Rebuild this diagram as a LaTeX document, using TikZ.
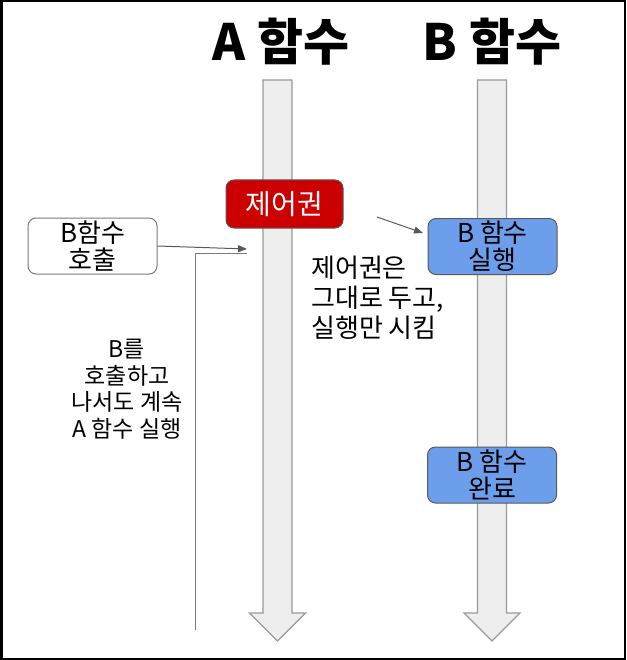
\documentclass[tikz,border=0pt]{standalone}
\usepackage{fontspec}
\setmainfont{Noto Sans CJK KR}
\usetikzlibrary{arrows.meta, positioning}
\definecolor{shaftfill}{HTML}{EEEEEE}
\definecolor{shaftline}{HTML}{9A9A9A}
\definecolor{ctrlred}{HTML}{CC0000}
\definecolor{runblue}{HTML}{6D9EEB}
\definecolor{linegray}{HTML}{595959}

\begin{document}
\begin{tikzpicture}[x=1pt, y=-1pt,
    every node/.style={font=\fontsize{26}{27}\selectfont, align=center, inner sep=0pt},
    title/.style={font=\fontsize{50}{54}\selectfont\bfseries},
    shaft/.style={draw=shaftline, fill=shaftfill, line width=1.2pt, line join=miter},
    callbox/.style={draw=linegray!80, fill=white, line width=1pt, rounded corners=8pt, minimum width=129pt, minimum height=56pt},
    ctrlbox/.style={draw=linegray, fill=ctrlred, text=white, line width=1pt, rounded corners=8pt, minimum width=117pt, minimum height=48pt, font=\fontsize{28}{30}\selectfont},
    runbox/.style={draw=linegray, fill=runblue, line width=1pt, rounded corners=8pt, minimum width=129pt, minimum height=56pt},
    note/.style={font=\fontsize{26}{30}\selectfont},
    arr/.style={-{Triangle[length=9pt, width=7pt]}, linegray, line width=1pt},
    wire/.style={linegray!80, line width=1pt},
  ]
  \useasboundingbox (0,0) rectangle (626,660);
  \draw[line width=2.5pt] (1.25,1.25) rectangle (624.75,658.75);

  % time lines of the two functions
  \foreach \cx in {277.5, 492}
    \draw[shaft] ({\cx-14.5},80) -- ({\cx+14.5},80) -- ({\cx+14.5},613) -- ({\cx+28},613)
      -- (\cx,641) -- ({\cx-28},613) -- ({\cx-14.5},613) -- cycle;

  \node[title] (titleA) at (281,42) {A 함수};
  \node[title] (titleB) at (492,42) {B 함수};

  \node[ctrlbox] (ctrl) at (284.5,204) {제어권};
  \node[callbox] (call) at (92.5,246) {B함수\\호출};
  \node[runbox] (run) at (492.5,246.5) {B 함수\\실행};
  \node[runbox] (done) at (492,475) {B 함수\\완료};

  \node[note, anchor=west, align=left] (keep) at (311,298) {제어권은\\그대로 두고,\\실행만 시킴};
  \node[font=\fontsize{23}{26.5}\selectfont] (cont) at (127,389) {B를\\호출하고\\나서도 계속\\A 함수 실행};

  \coordinate (callend) at (247,249);
  \coordinate (loopbot) at (195,630);
  \coordinate (loopend) at (247,253);
  \coordinate (ctrlfrom) at (377,217);
  \coordinate (runin) at (423,233);

  \draw[arr] (call.east) -- (callend);
  \draw[wire] (loopbot) |- (loopend);
  \draw[arr] (ctrlfrom) -- (runin);
\end{tikzpicture}
\end{document}
